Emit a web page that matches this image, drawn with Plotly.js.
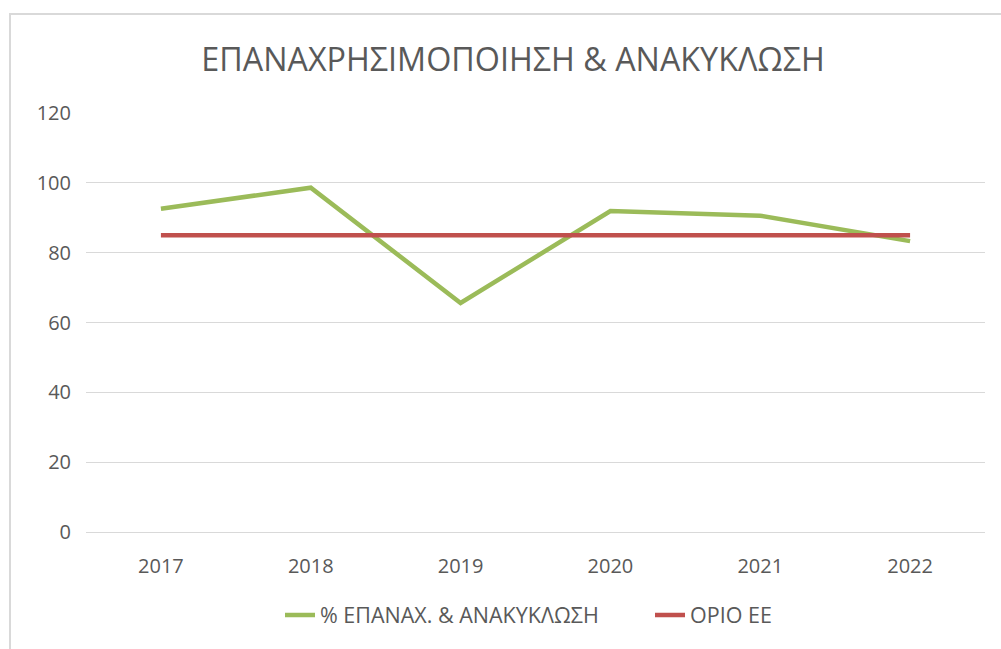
<!DOCTYPE html>
<html>
<head>
<meta charset="utf-8">
<script src="https://cdn.plot.ly/plotly-3.0.1.min.js"></script>
<style>
  html, body { margin: 0; padding: 0; background: #ffffff; }
  #frame { position: absolute; left: 9px; top: 13px; width: 1000px; height: 650px;
           border-left: 2px solid #d9d9d9; border-top: 2px solid #d9d9d9; box-sizing: border-box; }
  #chart { position: absolute; left: 0; top: 0; width: 1001px; height: 649px; }
</style>
</head>
<body>
<div id="frame"></div>
<div id="chart"></div>
<script>
const years = ['2017', '2018', '2019', '2020', '2021', '2022'];
const recyclingPct = [92.6, 98.6, 65.6, 91.9, 90.6, 83.3];
const euLimit = [85, 85, 85, 85, 85, 85];
const seriesNames = ['% ΕΠΑΝΑΧ. & ΑΝΑΚΥΚΛΩΣΗ', 'ΟΡΙΟ ΕΕ'];
const yTicks = [0, 20, 40, 60, 80, 100, 120];
const chartTitle = 'ΕΠΑΝΑΧΡΗΣΙΜΟΠΟΙΗΣΗ & ΑΝΑΚΥΚΛΩΣΗ';

const fontFamily = '"Open Sans", "Noto Sans", sans-serif';

const traces = [
  { x: years, y: recyclingPct, name: seriesNames[0], type: 'scatter', mode: 'lines',
    legendwidth: 325, line: { color: '#9BBB59', width: 4.5 } },
  { x: years, y: euLimit, name: seriesNames[1], type: 'scatter', mode: 'lines',
    line: { color: '#C0504D', width: 4.5 } }
];

const layout = {
  width: 1001, height: 649,
  paper_bgcolor: 'rgba(0,0,0,0)', plot_bgcolor: 'rgba(0,0,0,0)',
  margin: { l: 86, r: 16, t: 113, b: 117 },
  font: { family: fontFamily, color: '#595959', size: 20 },
  title: { text: chartTitle, font: { family: fontFamily, size: 32.3, color: '#595959' },
           x: 0.5125, xref: 'container', xanchor: 'center', y: 0.9075, yref: 'container', yanchor: 'middle' },
  xaxis: { type: 'category', range: [-0.5, 5.5], showgrid: false, zeroline: false, showline: false,
           ticks: '', ticklabelstandoff: 20, tickfont: { size: 20, color: '#595959' }, fixedrange: true },
  yaxis: { range: [0, 120], tickvals: yTicks, showgrid: true, gridcolor: '#d9d9d9', gridwidth: 1,
           zeroline: true, zerolinecolor: '#d9d9d9', zerolinewidth: 1, showline: false, ticks: '',
           ticklabelstandoff: 14, tickfont: { size: 20, color: '#595959' }, fixedrange: true },
  showlegend: true,
  legend: { orientation: 'h', x: 0.2158, xanchor: 'left', y: -0.198, yanchor: 'middle',
            font: { size: 21.5, color: '#595959' }, bgcolor: 'rgba(0,0,0,0)', traceorder: 'normal' }
};

Plotly.newPlot('chart', traces, layout, { staticPlot: true, displayModeBar: false });
</script>
</body>
</html>
